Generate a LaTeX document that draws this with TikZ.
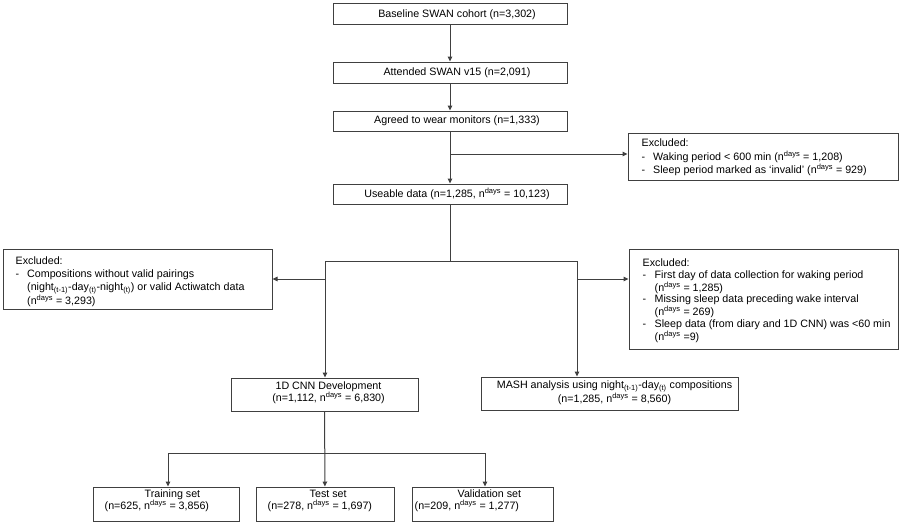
\documentclass[tikz,border=0pt]{standalone}
\usepackage{fontspec}
\setmainfont{Liberation Sans}
\usetikzlibrary{arrows.meta}
\begin{document}
\begin{tikzpicture}[x=1pt,y=-1pt,
  box/.style={draw=black!75, line width=1pt, inner sep=0pt, fill=white},
  conn/.style={draw=black!75, line width=1pt},
  arr/.style={conn, -{Triangle[length=5pt,width=4.5pt]}},
  txt/.style={font=\fontsize{10.7}{12.5}\selectfont, inner sep=0pt, align=center},
  ltxt/.style={font=\fontsize{10.7}{12.5}\selectfont, inner sep=0pt, align=left, anchor=west}]
\useasboundingbox[fill=white] (0,0) rectangle (900,523);

% main column
\node[box, minimum width=234pt, minimum height=21pt] (a) at (450,13.5) {};
\node[txt] (at) at ([xshift=7pt,yshift=-1pt]a.center) {Baseline SWAN cohort (n=3,302)};
\node[box, minimum width=234pt, minimum height=21pt] (b) at (450,72.5) {};
\node[txt] (bt) at ([xshift=7pt]b.center) {Attended SWAN v15 (n=2,091)};
\node[box, minimum width=234pt, minimum height=20pt] (c) at (450,121) {};
\node[txt] (ct) at ([xshift=7pt]c.center) {Agreed to wear monitors (n=1,333)};
\node[box, minimum width=234pt, minimum height=20pt] (d) at (450,194) {};
\node[txt] (dt) at ([xshift=7pt]d.center) {Useable data (n=1,285, n\textsuperscript{days} = 10,123)};

% exclusion 1
\node[box, minimum width=270pt, minimum height=47pt] (ex1) at (763,156.5) {};
\node[ltxt] (ex1t) at ([xshift=14pt,yshift=-1pt]ex1.west) {%
\begin{tabular}{@{}p{11.5pt}@{}l@{}}
\multicolumn{2}{@{}l@{}}{Excluded:}\\
- & Waking period < 600 min (n\textsuperscript{days} = 1,208)\\
- & Sleep period marked as `invalid' (n\textsuperscript{days} = 929)
\end{tabular}};

% exclusion left
\node[box, minimum width=269pt, minimum height=60pt] (exl) at (137.5,279) {};
\node[ltxt, font=\fontsize{10.7}{13}\selectfont] (exlt) at ([xshift=13pt,yshift=-3pt]exl.west) {%
\begin{tabular}{@{}p{11.5pt}@{}l@{}}
\multicolumn{2}{@{}l@{}}{Excluded:}\\
- & Compositions without valid pairings\\
 & (night\textsubscript{(t-1)}-day\textsubscript{(t)}-night\textsubscript{(t)}) or valid Actiwatch data\\
 & (n\textsuperscript{days} = 3,293)
\end{tabular}};

% exclusion right
\node[box, minimum width=269pt, minimum height=100pt] (exr) at (763.5,299) {};
\node[ltxt, font=\fontsize{10.7}{11.6}\selectfont] (exrt) at ([xshift=14pt,yshift=-2pt]exr.west) {%
\begin{tabular}{@{}p{12pt}@{}l@{}}
\multicolumn{2}{@{}l@{}}{Excluded:}\\
- & First day of data collection for waking period\\
 & (n\textsuperscript{days} = 1,285)\\
- & Missing sleep data preceding wake interval\\
 & (n\textsuperscript{days} = 269)\\
- & Sleep data (from diary and 1D CNN) was <60 min\\
 & (n\textsuperscript{days} =9)
\end{tabular}};

% second level
\node[box, minimum width=187pt, minimum height=33pt] (cnn) at (324.5,394.5) {};
\node[txt, font=\fontsize{10.7}{11.8}\selectfont] (cnnt) at ([xshift=4pt,yshift=2pt]cnn.center) {1D CNN Development\\(n=1,112, n\textsuperscript{days} = 6,830)};
\node[box, minimum width=257pt, minimum height=33pt] (mash) at (609.5,393.5) {};
\node[txt, font=\fontsize{10.7}{11.8}\selectfont] (masht) at ([xshift=5pt,yshift=1pt]mash.center) {MASH analysis using night\textsubscript{(t-1)}-day\textsubscript{(t)} compositions\\(n=1,285, n\textsuperscript{days} = 8,560)};

% third level
\node[box, minimum width=146pt, minimum height=34pt] (tr) at (166,504) {};
\node[ltxt, font=\fontsize{10.7}{11.8}\selectfont] (trt) at ([xshift=12pt,yshift=3pt]tr.west) {\hspace*{40pt}Training set\\(n=625, n\textsuperscript{days} = 3,856)};
\node[box, minimum width=138pt, minimum height=34pt] (te) at (325,504) {};
\node[ltxt, font=\fontsize{10.7}{11.8}\selectfont] (tet) at ([xshift=12pt,yshift=3pt]te.west) {\hspace*{42pt}Test set\\(n=278, n\textsuperscript{days} = 1,697)};
\node[box, minimum width=141pt, minimum height=34pt] (va) at (482.5,504) {};
\node[ltxt, font=\fontsize{10.7}{11.8}\selectfont] (vat) at ([xshift=3pt,yshift=3pt]va.west) {\hspace*{43pt}Validation set\\(n=209, n\textsuperscript{days} = 1,277)};

% connectors
\draw[arr] (a) -- (b);
\draw[arr] (b) -- (c);
\draw[arr] (c) -- (d);
\coordinate (j1) at (450,154);
\draw[arr] (j1) -- (j1 -| ex1.west);

\coordinate (j2) at (450,261);
\coordinate (j2l) at (325,261);
\coordinate (j2r) at (577,261);
\draw[conn] (d) -- (j2);
\draw[conn] (j2l) -- (j2r);
\draw[arr] (j2l) -- (j2l |- cnn.north);
\draw[arr] (j2r) -- (j2r |- mash.north);
\coordinate (j3l) at (325,279);
\coordinate (j3r) at (577,279);
\draw[arr] (j3l) -- (j3l -| exl.east);
\draw[arr] (j3r) -- (j3r -| exr.west);

\coordinate (j4) at (325,453);
\coordinate (j4a) at (168,453);
\coordinate (j4c) at (485,453);
\draw[arr] (cnn) -- (te);
\draw[conn] (j4a) -- (j4c);
\draw[arr] (j4a) -- (j4a |- tr.north);
\draw[arr] (j4c) -- (j4c |- va.north);
\end{tikzpicture}
\end{document}
